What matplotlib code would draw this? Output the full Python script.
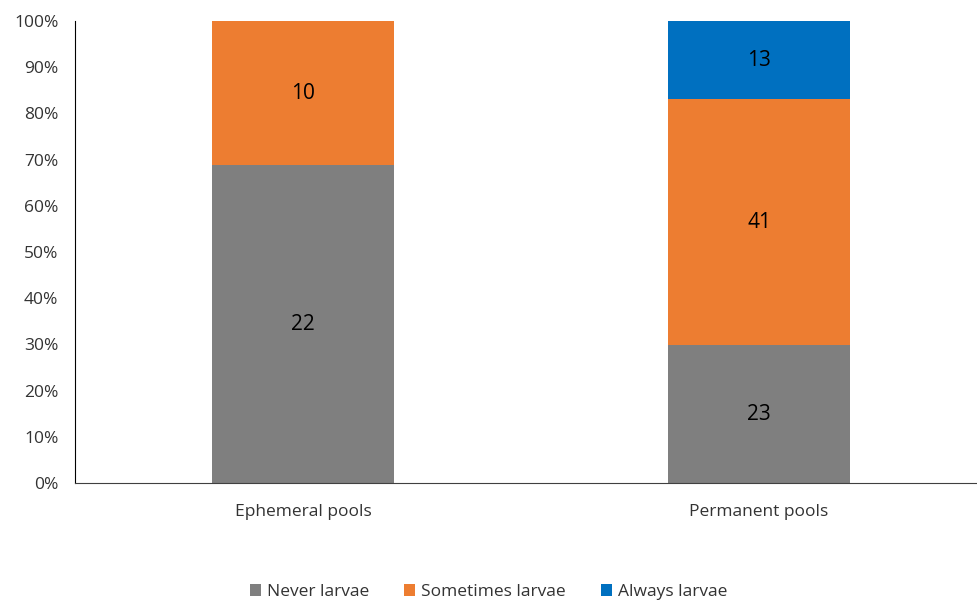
import matplotlib
matplotlib.use("Agg")
import matplotlib.pyplot as plt
from matplotlib.ticker import PercentFormatter
import numpy as np

plt.rcParams["font.family"] = ["Open Sans", "DejaVu Sans"]

# pool counts by larvae presence
categories = ["Ephemeral pools", "Permanent pools"]
series_names = ["Never larvae", "Sometimes larvae", "Always larvae"]
never_larvae = [22, 23]
sometimes_larvae = [10, 41]
always_larvae = [0, 13]
colors = ["#7F7F7F", "#ED7D31", "#0070C0"]

counts = np.array([never_larvae, sometimes_larvae, always_larvae], dtype=float)
shares = counts / counts.sum(axis=0) * 100

fig = plt.figure(figsize=(9.77, 6.01), dpi=100)
ax = fig.add_axes([75 / 977, 1 - 483 / 601, 912 / 977, 462 / 601])

x = np.arange(len(categories))
bottom = np.zeros(len(categories))
for name, share, cnt, col in zip(series_names, shares, counts, colors):
    ax.bar(x, share, width=0.40, bottom=bottom, color=col, label=name)
    for xi, s, b, c in zip(x, share, bottom, cnt):
        if c > 0:
            ax.text(xi, b + s / 2, f"{int(c)}", ha="center", va="center",
                    fontsize=15, color="black")
    bottom += share

ax.set_xlim(-0.5, 1.5)
ax.set_ylim(0, 100)
ax.set_yticks(np.arange(0, 101, 10))
ax.yaxis.set_major_formatter(PercentFormatter(decimals=0))
ax.set_xticks(x)
ax.set_xticklabels(categories)
ax.tick_params(axis="both", length=0, labelsize=12.5, colors="#333333")
ax.tick_params(axis="y", pad=12)
ax.tick_params(axis="x", pad=15)
for side in ["top", "right"]:
    ax.spines[side].set_visible(False)
ax.spines["left"].set_color("black")
ax.spines["bottom"].set_color("#404040")

ax.legend(loc="center", bbox_to_anchor=(0.5, 1 - 592 / 601), bbox_transform=fig.transFigure,
          ncol=3, frameon=False, fontsize=12.5, handlelength=0.65, handleheight=0.65,
          handletextpad=0.35, columnspacing=2.0, labelcolor="#333333")

fig.savefig("out.png", dpi=100)
